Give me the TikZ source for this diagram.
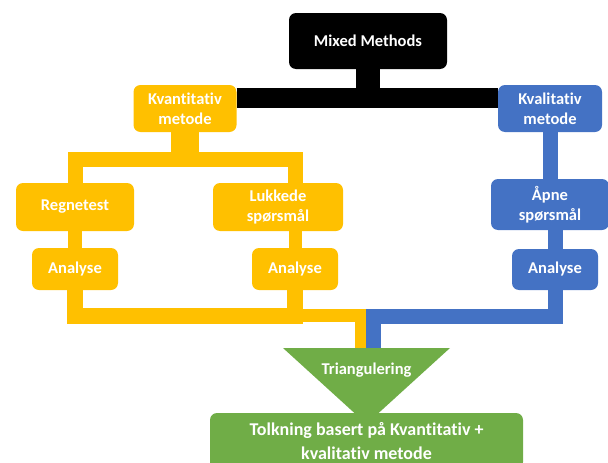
\documentclass[tikz,border=0pt]{standalone}
\usepackage{fontspec}
\setmainfont{Carlito}[Ligatures=NoCommon]
\usetikzlibrary{calc,backgrounds}
\definecolor{kvantcol}{HTML}{FFC000}
\definecolor{kvalcol}{HTML}{4472C4}
\definecolor{greencol}{HTML}{70AD47}
\begin{document}
\begin{tikzpicture}[x=1pt,y=-1pt,
  box/.style={rounded corners=7pt, text=white, align=center, inner sep=0pt,
    font=\bfseries\fontsize{16.5}{20}\selectfont},
  kvantbox/.style={box, fill=kvantcol},
  kvalbox/.style={box, fill=kvalcol},
  kvantline/.style={draw=kvantcol},
  kvalline/.style={draw=kvalcol}]
\useasboundingbox (0,0) rectangle (608,463);
\clip (0,0) rectangle (608,463);

% nodes
\node[box, fill=black, minimum width=158pt, minimum height=56pt] (mm) at (368,41) {Mixed Methods};
\node[kvantbox, minimum width=103pt, minimum height=47pt] (kvant) at (185,108.5) {Kvantitativ\\metode};
\node[kvalbox, minimum width=104pt, minimum height=47pt] (kval) at (550,108.5) {Kvalitativ\\metode};
\node[kvantbox, minimum width=118pt, minimum height=48pt] (regn) at (75,207) {Regnetest};
\node[kvantbox, minimum width=130pt, minimum height=48pt] (lukk) at (278,207) {Lukkede\\spørsmål};
\node[kvalbox, minimum width=118pt, minimum height=51pt] (apne) at (550,204.5) {Åpne\\spørsmål};
\node[kvantbox, minimum width=86pt, minimum height=42pt] (an1) at (75,269) {Analyse};
\node[kvantbox, minimum width=86pt, minimum height=42pt] (an2) at (295,269) {Analyse};
\node[kvalbox, minimum width=86pt, minimum height=41pt] (an3) at (555,269.5) {Analyse};

\coordinate (bj) at (368,98);
\coordinate (oj) at (185,159);
\coordinate (lk) at ($(lukk.north)+(17,0)$);
\coordinate (tritop) at (366.5,348);

% triangle
\fill[greencol] (283,348) -- (450,348) -- (366.5,424) -- cycle;
\node[text=white, font=\bfseries\fontsize{16.5}{20}\selectfont] (tri) at (366.5,370) {Triangulering};

\node[box, fill=greencol, minimum width=313pt, minimum height=56pt,
  font=\bfseries\fontsize{18}{24}\selectfont] (res) at (366.5,441)
  {Tolkning basert på Kvantitativ +\\kvalitativ metode};

% connectors
\begin{scope}[on background layer]
  \draw[line width=24pt] (mm.south) -- (bj);
  \draw[line width=20pt] (kvant.east |- bj) -- (kval.west |- bj);
  \draw[kvantline, line width=28pt] (kvant.south) -- (oj);
  \draw[kvantline, line width=15pt] (regn.north) |- (lk |- oj) -- (lk);
  \draw[kvantline, line width=14pt] (regn.south) -- (an1.north);
  \draw[kvantline, line width=13pt] (lukk.south -| lk) -- (an2.north);
  \draw[kvantline, line width=16pt] (an1.south) -- ++(0,26) -| (an2.south);
  \draw[kvantline, line width=13pt] (an2.south) -- ++(0,25) -| ($(tritop)+(-5.5,0)$);
  \draw[kvalline, line width=15pt] (kval.south) -- (apne.north);
  \draw[kvalline, line width=15pt] (an3.north |- apne.south) -- (an3.north);
  \draw[kvalline, line width=15pt] (an3.south) -- ++(0,26) -| ($(tritop)+(6.5,0)$);
\end{scope}
\end{tikzpicture}
\end{document}
